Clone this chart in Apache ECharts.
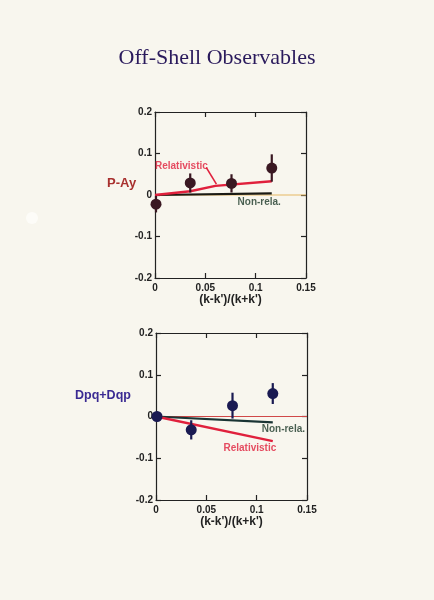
<!DOCTYPE html>
<html><head><meta charset="utf-8">
<script src="https://cdn.jsdelivr.net/npm/echarts@6/dist/echarts.min.js"></script>
<style>html,body{margin:0;padding:0;background:#f8f6ee;}#c{width:434px;height:600px;}</style>
</head><body><div id="c"></div>
<script>
// ---- data ----
var xTicks = [0, 0.05, 0.1, 0.15];
var yTicks = [-0.2, -0.1, 0, 0.1, 0.2];
// top panel: P-Ay  [x, y, error]
var payX = [0.001, 0.035, 0.076, 0.116];
var payY = [-0.022, 0.029, 0.028, 0.065];
var payErr = [0.02, 0.023, 0.022, 0.033];
var payRelX = [0, 0.035, 0.06, 0.116];
var payRelY = [0, 0.009, 0.022, 0.033];
var payNonX = [0, 0.116];
var payNonY = [0, 0.004];
// bottom panel: Dpq+Dqp
var dpqX = [0.001, 0.035, 0.076, 0.116];
var dpqY = [0.0, -0.032, 0.026, 0.055];
var dpqErr = [0.012, 0.023, 0.031, 0.025];
var dpqRelX = [0, 0.116];
var dpqRelY = [0, -0.059];
var dpqNonX = [0, 0.116];
var dpqNonY = [0, -0.014];

var zip = function(a, b){ return a.map(function(v,i){ return [v, b[i]]; }); };

var chart = echarts.init(document.getElementById('c'), null, {renderer:'canvas'});
var frame = '#222';
var lblFont = {fontFamily:'Liberation Sans, Arial', fontWeight:'bold', fontSize:10, color:'#222'};

function xAx(gi, pos, show){
  return {gridIndex:gi, type:'value', min:0, max:0.15, interval:0.05, position:pos,
    axisLine:{show:true, onZero:false, lineStyle:{color:frame, width:1.2}},
    axisTick:{show:true, inside:true, length:5, lineStyle:{color:frame, width:1.2}},
    axisLabel:Object.assign({show:show, margin:5, formatter:function(v){return v===0?'0':String(+v.toFixed(2));}}, lblFont),
    splitLine:{show:false}};
}
function yAx(gi, pos, show){
  return {gridIndex:gi, type:'value', min:-0.2, max:0.2, interval:0.1, position:pos,
    axisLine:{show:true, onZero:false, lineStyle:{color:frame, width:1.2}},
    axisTick:{show:true, inside:true, length:5, lineStyle:{color:frame, width:1.2}},
    axisLabel:Object.assign({show:show, margin:3, formatter:function(v){return v===0?'0':String(+v.toFixed(1));}}, lblFont),
    splitLine:{show:false}};
}

function errSeries(xi, yi, xs, ys, es, color){
  return {type:'custom', xAxisIndex:xi, yAxisIndex:yi, clip:false, z:5,
    data: xs.map(function(x,i){ return [x, ys[i]-es[i], ys[i]+es[i]]; }),
    renderItem:function(params, api){
      var lo = api.coord([api.value(0), api.value(1)]);
      var hi = api.coord([api.value(0), api.value(2)]);
      return {type:'line', shape:{x1:lo[0], y1:lo[1], x2:hi[0], y2:hi[1]},
        style:{stroke:color, lineWidth:2.2}};
    }};
}
function textSeries(xi, yi, pt, text, color, size){
  return {type:'scatter', xAxisIndex:xi, yAxisIndex:yi, symbolSize:0, clip:false, z:6,
    data:[pt], silent:true,
    label:{show:true, position:'right', distance:0, formatter:text, color:color,
      fontFamily:'Liberation Sans, Arial', fontWeight:'bold', fontSize:size||10}};
}

var red = '#e0203c';
var nameStyle = {fontFamily:'Liberation Sans, Arial', fontWeight:'bold', fontSize:12, color:'#222'};
var option = {
  backgroundColor:'#f8f6ee',
  animation:false,
  title:{text:'Off-Shell Observables', left:'center', top:42,
    textStyle:{fontFamily:'Liberation Serif, Times New Roman', fontWeight:'normal', fontSize:22, color:'#2a1a5c'}},
  graphic:[
    {type:'circle', shape:{cx:32, cy:218, r:6}, style:{fill:'#fdfcf8'}},
    {type:'text', left:107, top:177, style:{text:'P-Ay', fill:'#a8302e', font:'bold 13px Liberation Sans, Arial'}},
    {type:'text', left:75, top:389, style:{text:'Dpq+Dqp', fill:'#3a2a92', font:'bold 12.5px Liberation Sans, Arial'}}
  ],
  grid:[
    {left:155, top:112, width:151, height:166},
    {left:156, top:333, width:151, height:167}
  ],
  xAxis:[
    Object.assign(xAx(0,'bottom',true), {name:"(k-k')/(k+k')", nameLocation:'middle', nameGap:16, nameTextStyle:nameStyle}),
    xAx(0,'top',false),
    Object.assign(xAx(1,'bottom',true), {name:"(k-k')/(k+k')", nameLocation:'middle', nameGap:16, nameTextStyle:nameStyle}),
    xAx(1,'top',false)
  ],
  yAxis:[
    yAx(0,'left',true), yAx(0,'right',false),
    yAx(1,'left',true), yAx(1,'right',false)
  ],
  series:[
    // top panel
    {type:'line', xAxisIndex:0, yAxisIndex:0, data:[[0,0],[0.15,0]], symbol:'none', lineStyle:{color:'#e6b862', width:1.2}, z:1},
    {type:'line', xAxisIndex:0, yAxisIndex:0, data:zip(payNonX, payNonY), symbol:'none', lineStyle:{color:'#1a1a14', width:2.2}, z:2},
    {type:'line', xAxisIndex:0, yAxisIndex:0, data:zip(payRelX, payRelY), symbol:'none', lineStyle:{color:red, width:2.4}, z:3},
    {type:'line', xAxisIndex:0, yAxisIndex:0, data:[[0.051,0.066],[0.061,0.026]], symbol:'none', lineStyle:{color:red, width:1.6}, z:3},
    errSeries(0, 0, payX, payY, payErr, '#3a1822'),
    {type:'scatter', xAxisIndex:0, yAxisIndex:0, clip:false, data:zip(payX, payY), symbolSize:11, itemStyle:{color:'#3a1822', opacity:1}, z:6},
    textSeries(0, 0, [0.0, 0.07], 'Relativistic', red, 10),
    textSeries(0, 0, [0.082, -0.017], 'Non-rela.', '#1c3828', 10),
    // bottom panel
    {type:'line', xAxisIndex:2, yAxisIndex:2, data:[[0,0],[0.15,0]], symbol:'none', lineStyle:{color:'#d04848', width:1}, z:1},
    {type:'line', xAxisIndex:2, yAxisIndex:2, data:zip(dpqNonX, dpqNonY), symbol:'none', lineStyle:{color:'#1a3434', width:2.2}, z:2},
    {type:'line', xAxisIndex:2, yAxisIndex:2, data:zip(dpqRelX, dpqRelY), symbol:'none', lineStyle:{color:red, width:2.4}, z:3},
    errSeries(2, 2, dpqX, dpqY, dpqErr, '#1a1a52'),
    {type:'scatter', xAxisIndex:2, yAxisIndex:2, clip:false, data:zip(dpqX, dpqY), symbolSize:11, itemStyle:{color:'#1a1a52', opacity:1}, z:6},
    textSeries(2, 2, [0.105, -0.031], 'Non-rela.', '#1c3828', 10),
    textSeries(2, 2, [0.067, -0.075], 'Relativistic', red, 10)
  ]
};
chart.setOption(option);
</script>
</body></html>
